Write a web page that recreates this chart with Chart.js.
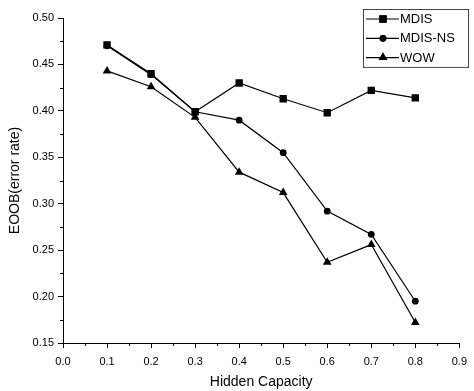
<!DOCTYPE html>
<html>
<head>
<meta charset="utf-8">
<script src="https://cdn.jsdelivr.net/npm/chart.js@4.4.1/dist/chart.umd.min.js"></script>
<style>
  body { margin: 0; background: #fff; }
</style>
</head>
<body>
<canvas id="myChart" width="474" height="391"></canvas>
<script>
/*---------------------------- data ------------------------------------*/
var capacity = [0.1, 0.2, 0.3, 0.4, 0.5, 0.6, 0.7, 0.8];
var mdis     = [0.471, 0.440, 0.399, 0.430, 0.413, 0.398, 0.422, 0.414];
var mdisNs   = [0.470, 0.439, 0.399, 0.390, 0.355, 0.292, 0.267, 0.195];
var wow      = [0.443, 0.426, 0.393, 0.334, 0.312, 0.237, 0.256, 0.172];
var seriesNames = ["MDIS", "MDIS-NS", "WOW"];
var markers = ["rect", "circle", "triangle"];
var markerSize = [5.2, 3.4, 5];

var xMin = 0, xMax = 0.9, xStep = 0.1;
var yMin = 0.15, yMax = 0.50, yStep = 0.05;

var font = "'Liberation Sans', Arial, sans-serif";

function points(ys) {
  return capacity.map(function (c, i) { return {x: c, y: ys[i]}; });
}

function makeSet(i, ys) {
  return {
    label: seriesNames[i],
    data: points(ys),
    borderColor: "#000",
    backgroundColor: "#000",
    borderWidth: 1.2,
    pointStyle: markers[i],
    pointRadius: markerSize[i],
    pointBorderWidth: 0,
    pointBackgroundColor: "#000",
    fill: false,
    tension: 0
  };
}

/*---------------------------- minor ticks ------------------------------------*/
var minorTicks = {
  id: "minorTicks",
  afterDraw: function (chart) {
    var ctx = chart.ctx, xs = chart.scales.x, ys = chart.scales.y;
    ctx.save();
    ctx.strokeStyle = "#000";
    ctx.lineWidth = 1;
    ctx.beginPath();
    for (var v = xMin + xStep / 2; v < xMax; v += xStep) {
      var px = Math.round(xs.getPixelForValue(v)) + 0.5;
      ctx.moveTo(px, ys.bottom);
      ctx.lineTo(px, ys.bottom + 3);
    }
    for (var w = yMin + yStep / 2; w < yMax; w += yStep) {
      var py = Math.round(ys.getPixelForValue(w)) + 0.5;
      ctx.moveTo(xs.left, py);
      ctx.lineTo(xs.left - 3, py);
    }
    ctx.stroke();
    ctx.restore();
  }
};

/*---------------------------- boxed legend ------------------------------------*/
var boxLegend = {
  id: "boxLegend",
  afterDraw: function (chart) {
    var ctx = chart.ctx;
    var left = 363, top = 9, width = 105, rowH = 19.3;
    ctx.save();
    ctx.strokeStyle = "#444";
    ctx.lineWidth = 1;
    ctx.strokeRect(left + 0.5, top + 0.5, width, rowH * 3);
    ctx.font = "13px " + font;
    ctx.textBaseline = "middle";
    ctx.fillStyle = "#000";
    chart.data.datasets.forEach(function (ds, i) {
      var y = top + 10 + i * rowH;
      ctx.strokeStyle = "#000";
      ctx.lineWidth = 1.2;
      ctx.beginPath();
      ctx.moveTo(left + 3, y);
      ctx.lineTo(left + 36, y);
      ctx.stroke();
      Chart.helpers.drawPoint(ctx, {pointStyle: ds.pointStyle, radius: ds.pointRadius, borderWidth: 0}, left + 20, y);
      ctx.fill();
      ctx.fillText(ds.label, left + 37, y + 0.5);
    });
    ctx.restore();
  }
};

new Chart("myChart", {
  type: "line",
  data: {
    datasets: [makeSet(0, mdis), makeSet(1, mdisNs), makeSet(2, wow)]
  },
  options: {
    responsive: false,
    animation: false,
    layout: {padding: {left: 0, top: 18, right: 8, bottom: 0}},
    plugins: {
      legend: {display: false},
      tooltip: {enabled: false}
    },
    scales: {
      x: {
        type: "linear",
        min: xMin,
        max: xMax,
        afterFit: function (s) { s.height = 48; },
        border: {display: true, color: "#000", width: 1},
        grid: {drawOnChartArea: false, drawTicks: true, tickLength: 5, tickColor: "#000"},
        ticks: {
          stepSize: xStep,
          color: "#000",
          padding: 7,
          maxRotation: 0,
          font: {family: font, size: 11},
          callback: function (v) { return v.toFixed(1); }
        },
        title: {
          display: true,
          text: "Hidden Capacity",
          color: "#000",
          font: {family: font, size: 14},
          padding: {top: 0, bottom: 0}
        }
      },
      y: {
        min: yMin,
        max: yMax,
        afterFit: function (s) { s.width = 63; },
        border: {display: true, color: "#000", width: 1},
        grid: {drawOnChartArea: false, drawTicks: true, tickLength: 5, tickColor: "#000"},
        ticks: {
          stepSize: yStep,
          color: "#000",
          padding: 4,
          font: {family: font, size: 11},
          callback: function (v) { return v.toFixed(2); }
        },
        title: {
          display: true,
          text: "EOOB(error rate)",
          color: "#000",
          font: {family: font, size: 14},
          padding: {top: 7, bottom: 0}
        }
      }
    }
  },
  plugins: [minorTicks, boxLegend]
});
</script>
</body>
</html>
